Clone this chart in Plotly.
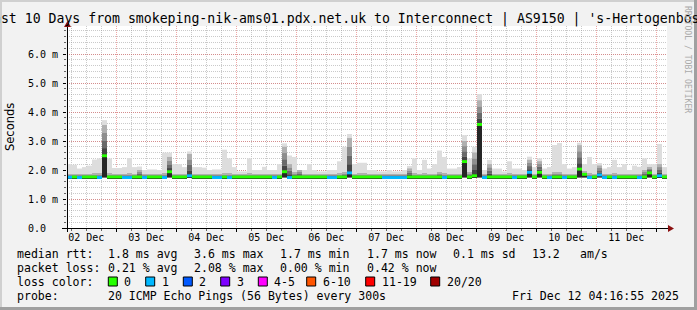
import pandas as pd
import plotly.graph_objects as go

# ---------------- data ----------------
START = pd.Timestamp("2025-12-02 04:16:55")
STEP_HOURS = 2

# median rtt per 2-hour step (milliseconds)
median_ms = [
    1.75, 1.76, 1.74, 1.76, 1.76, 1.76, 1.74, 2.49, 1.76, 1.76,
    1.76, 1.74, 1.74, 1.76, 1.76, 1.74, 1.76, 1.76, 1.76, 1.74,
    1.94, 1.76, 1.76, 1.76, 1.80, 1.76, 1.76, 1.76, 1.76, 1.74,
    1.74, 1.76, 1.74, 1.76, 1.76, 1.76, 1.76, 1.76, 1.76, 1.76,
    1.76, 1.74, 1.76, 1.94, 1.74, 1.76, 1.76, 1.76, 1.76, 1.76,
    1.76, 1.76, 1.74, 1.74, 1.76, 1.76, 1.90, 1.76, 1.76, 1.76,
    1.76, 1.76, 1.76, 1.74, 1.74, 1.74, 1.74, 1.74, 1.76, 1.76,
    1.76, 1.76, 1.76, 1.76, 1.76, 1.74, 1.76, 1.76, 1.76, 2.29,
    1.76, 1.80, 3.57, 1.74, 1.76, 1.76, 1.76, 1.76, 1.76, 1.74,
    1.76, 1.76, 1.92, 1.76, 1.92, 1.76, 1.74, 1.76, 1.76, 1.74,
    1.76, 1.76, 2.03, 1.85, 1.74, 1.76, 1.83, 1.74, 1.76, 1.74,
    1.76, 1.76, 1.76, 1.76, 1.74, 1.76, 1.90, 1.76, 1.80, 1.76,
]
# smoke: lowest ping, top of the dense (dark) part, highest ping (ms)
smoke_min_ms = [
    1.71, 1.72, 1.70, 1.72, 1.72, 1.72, 1.70, 1.74, 1.72, 1.72,
    1.72, 1.70, 1.70, 1.72, 1.72, 1.70, 1.72, 1.72, 1.72, 1.70,
    1.74, 1.72, 1.72, 1.72, 1.74, 1.72, 1.72, 1.72, 1.72, 1.70,
    1.70, 1.72, 1.70, 1.72, 1.72, 1.72, 1.72, 1.72, 1.72, 1.72,
    1.72, 1.70, 1.72, 1.74, 1.70, 1.72, 1.72, 1.72, 1.72, 1.72,
    1.72, 1.72, 1.70, 1.70, 1.72, 1.72, 1.74, 1.72, 1.72, 1.72,
    1.72, 1.72, 1.72, 1.70, 1.70, 1.70, 1.70, 1.70, 1.72, 1.72,
    1.72, 1.72, 1.72, 1.72, 1.72, 1.70, 1.72, 1.72, 1.72, 1.74,
    1.72, 1.74, 1.74, 1.70, 1.72, 1.72, 1.72, 1.72, 1.72, 1.70,
    1.72, 1.72, 1.74, 1.72, 1.74, 1.72, 1.70, 1.72, 1.72, 1.70,
    1.72, 1.72, 1.74, 1.74, 1.70, 1.72, 1.74, 1.70, 1.72, 1.70,
    1.72, 1.72, 1.72, 1.72, 1.70, 1.72, 1.74, 1.72, 1.74, 1.72,
]
smoke_dark_ms = [
    1.86, 1.86, 1.86, 1.86, 1.86, 1.88, 1.88, 3.55, 1.88, 1.86,
    1.86, 1.86, 1.88, 1.86, 2.00, 1.86, 1.86, 1.86, 1.86, 1.88,
    2.45, 1.86, 1.86, 1.86, 2.55, 1.86, 1.86, 1.86, 1.86, 1.86,
    1.86, 1.88, 1.88, 1.86, 1.86, 1.86, 1.88, 1.86, 1.86, 1.86,
    1.86, 1.86, 1.86, 2.80, 2.20, 1.90, 2.00, 1.86, 1.86, 1.86,
    1.86, 1.86, 1.86, 1.86, 1.88, 1.90, 3.10, 1.86, 1.88, 1.88,
    1.86, 1.86, 1.86, 1.86, 1.86, 1.86, 1.86, 1.86, 2.05, 1.88,
    1.86, 1.88, 1.86, 1.86, 1.90, 1.88, 1.86, 1.86, 1.86, 3.00,
    1.90, 2.60, 4.40, 1.86, 2.20, 1.86, 1.86, 1.86, 1.88, 1.86,
    1.86, 1.86, 2.35, 1.86, 2.30, 1.86, 1.86, 1.90, 1.90, 1.86,
    1.86, 1.86, 2.85, 1.95, 1.88, 1.86, 2.15, 1.86, 1.86, 1.88,
    1.86, 1.86, 1.86, 1.86, 1.86, 2.00, 2.10, 1.86, 2.20, 1.86,
]
smoke_max_ms = [
    2.20, 2.18, 2.05, 2.10, 2.15, 2.36, 2.40, 3.72, 2.40, 2.07,
    2.07, 2.10, 2.41, 2.10, 2.12, 2.00, 2.02, 2.02, 2.00, 2.60,
    2.60, 2.20, 2.20, 2.10, 2.64, 2.10, 2.10, 2.08, 2.00, 2.02,
    2.02, 2.70, 2.40, 2.10, 1.95, 1.95, 2.40, 2.00, 2.00, 2.11,
    2.00, 2.00, 2.20, 2.92, 2.50, 2.45, 2.00, 2.00, 2.20, 2.00,
    1.95, 1.95, 2.00, 2.00, 2.30, 2.80, 3.24, 2.20, 2.25, 2.25,
    2.00, 2.00, 1.95, 1.95, 2.00, 1.95, 1.95, 2.00, 2.14, 2.40,
    2.00, 2.35, 2.05, 2.20, 2.67, 2.45, 2.05, 2.05, 2.10, 3.20,
    2.40, 2.80, 4.62, 2.00, 2.35, 2.05, 2.05, 1.95, 2.30, 2.05,
    2.05, 2.00, 2.46, 2.10, 2.40, 2.05, 2.10, 2.86, 2.93, 2.20,
    2.05, 2.10, 2.94, 2.20, 2.45, 2.20, 2.24, 2.05, 2.10, 2.35,
    2.10, 2.20, 2.00, 2.15, 2.11, 2.40, 2.20, 2.20, 2.90, 2.10,
]
# averaged lost pings (out of 20) per step -> loss colour class
loss_class = [
    1, 0, 1, 0, 0, 0, 1, 0, 0, 0,
    0, 1, 1, 0, 0, 1, 0, 0, 0, 1,
    0, 0, 0, 0, 1, 0, 0, 0, 0, 1,
    1, 0, 1, 0, 0, 0, 0, 0, 0, 0,
    0, 1, 0, 0, 1, 0, 0, 0, 0, 0,
    0, 0, 1, 1, 0, 0, 1, 0, 0, 0,
    0, 0, 0, 1, 1, 1, 1, 1, 0, 0,
    0, 0, 0, 0, 0, 1, 0, 0, 0, 0,
    0, 0, 0, 1, 0, 0, 0, 0, 0, 1,
    0, 0, 1, 0, 0, 0, 1, 0, 0, 1,
    0, 0, 0, 0, 1, 0, 1, 1, 0, 1,
    0, 0, 0, 0, 1, 0, 0, 0, 1, 0,
]

day_labels = ["02 Dec", "03 Dec", "04 Dec", "05 Dec", "06 Dec",
              "07 Dec", "08 Dec", "09 Dec", "10 Dec", "11 Dec"]
y_tick_vals = [0, 1, 2, 3, 4, 5, 6]
y_tick_text = ["0.0\u00a0\u00a0", "1.0 m", "2.0 m", "3.0 m", "4.0 m", "5.0 m", "6.0 m"]

title_text = ("Last 10 Days from smokeping-nik-ams01.pdx.net.uk to Interconnect"
              " | AS9150 | 's-Hertogenbosch")
rtt_items = ["median rtt:", "1.8 ms avg", "3.6 ms max", "1.7 ms min",
             "1.7 ms now", "0.1 ms sd", "13.2", "am/s"]
loss_items = ["packet loss:", "0.21 % avg", "2.08 % max", "0.00 % min", "0.42 % now"]
loss_color_labels = ["0", "1", "2", "3", "4-5", "6-10", "11-19", "20/20"]
loss_colors = ["#26ff00", "#00b8ff", "#0059ff", "#7e00ff",
               "#ff00ff", "#ff5500", "#ff0000", "#a00000"]
probe_text = "20 ICMP Echo Pings (56 Bytes) every 300s"
stamp_text = "Fri Dec 12 04:16:55 2025"

# ---------------- layout geometry (pixels) ----------------
W, H = 697, 310
PL, PR, PT, PB = 67, 667, 26, 228
PX_PER_MS = 29.0
Y_TOP = (PB - PT) / PX_PER_MS


def fx(x):
    return (x - PL) / (PR - PL)


def fy(y):
    return (PB - y) / (PB - PT)


MONO = "DejaVu Sans Mono"
n = len(median_ms)
step = pd.Timedelta(hours=STEP_HOURS)
centers = [START + step * (i + 0.5) for i in range(n)]
width_ms = [step.total_seconds() * 1000] * n
END = START + step * n

fig = go.Figure()


def band(lo, hi, color, xaxis="x"):
    fig.add_trace(go.Bar(
        x=centers, base=lo, y=[h - l for l, h in zip(lo, hi)], width=width_ms,
        marker=dict(color=color, line=dict(width=0)), xaxis=xaxis,
        showlegend=False, hoverinfo="skip"))


# light smoke (all pings)
band(smoke_min_ms, smoke_max_ms, "#dddddd")
# denser smoke
band(smoke_min_ms, smoke_dark_ms, "#c6c6c6")
# gradient from median up to top of dense smoke
shades = ["#444444", "#696969", "#8e8e8e", "#b0b0b0"]
for k, c in enumerate(shades):
    lo = [m + (d - m) * k / 4 for m, d in zip(median_ms, smoke_dark_ms)]
    hi = [m + (d - m) * (k + 1) / 4 for m, d in zip(median_ms, smoke_dark_ms)]
    band(lo, hi, c)
# dark part below median
band(smoke_min_ms, median_ms, "#262626")
# median mark coloured by loss
SW = 0.10
band([m - SW / 2 for m in median_ms], [m + SW / 2 for m in median_ms],
     [loss_colors[c] for c in loss_class], xaxis="x2")

grid_minor = "rgba(150,150,150,0.5)"
grid_major = "rgba(222,80,80,0.5)"

midnight = pd.Timestamp("2025-12-02 00:00:00")
noon_vals = [pd.Timestamp("2025-12-02 12:00:00") + pd.Timedelta(days=d) for d in range(len(day_labels))]

fig.update_layout(
    width=W, height=H,
    margin=dict(l=PL, r=W - PR, t=PT, b=H - PB, pad=0),
    paper_bgcolor="#f2f2f2", plot_bgcolor="#ffffff",
    barmode="overlay", showlegend=False,
    xaxis=dict(
        type="date", range=[START, END], showticklabels=False,
        tickmode="linear", tick0=midnight, dtick=86400000,
        showgrid=True, gridcolor=grid_major, griddash="1px,1px", gridwidth=1,
        ticks="outside", ticklen=3, tickcolor="#000000",
        minor=dict(dtick=6 * 3600000, tick0=midnight, showgrid=True,
                   gridcolor=grid_minor, griddash="1px,1px", gridwidth=1,
                   ticks="outside", ticklen=2, tickcolor="#666666"),
        showline=False, zeroline=False, fixedrange=True,
    ),
    xaxis2=dict(
        type="date", range=[START, END], overlaying="x", anchor="y",
        tickmode="array", tickvals=noon_vals, ticktext=day_labels,
        showgrid=False, ticks="", ticklabelstandoff=2,
        tickfont=dict(family=MONO, size=10, color="#000000"),
        showline=False, zeroline=False, side="bottom",
    ),
    yaxis=dict(
        range=[0, Y_TOP], tickmode="array", tickvals=y_tick_vals, ticktext=y_tick_text,
        showgrid=True, gridcolor=grid_major, griddash="1px,1px", gridwidth=1,
        ticks="outside", ticklen=3, tickcolor="#000000", ticklabelstandoff=3,
        minor=dict(dtick=0.2, tick0=0, showgrid=True, gridcolor=grid_minor,
                   griddash="1px,1px", gridwidth=1, ticks="outside", ticklen=2,
                   tickcolor="#666666"),
        tickfont=dict(family=MONO, size=10, color="#000000"),
        showline=False, zeroline=False,
    ),
)

shapes = []
# frame shading
shapes.append(dict(type="rect", xref="paper", yref="paper", x0=fx(0), x1=fx(W), y0=fy(0), y1=fy(2),
                   fillcolor="#d0d0d0", line=dict(width=0), layer="above"))
shapes.append(dict(type="rect", xref="paper", yref="paper", x0=fx(0), x1=fx(2), y0=fy(0), y1=fy(H),
                   fillcolor="#d0d0d0", line=dict(width=0), layer="above"))
shapes.append(dict(type="rect", xref="paper", yref="paper", x0=fx(W - 3), x1=fx(W), y0=fy(0), y1=fy(H),
                   fillcolor="#a0a0a0", line=dict(width=0), layer="above"))
shapes.append(dict(type="rect", xref="paper", yref="paper", x0=fx(0), x1=fx(W), y0=fy(H - 3), y1=fy(H),
                   fillcolor="#a0a0a0", line=dict(width=0), layer="above"))
# axes
shapes.append(dict(type="line", xref="paper", yref="paper", x0=fx(62), x1=fx(669), y0=fy(228.5), y1=fy(228.5),
                   line=dict(color="#000000", width=1), layer="above"))
shapes.append(dict(type="line", xref="paper", yref="paper", x0=fx(67.5), x1=fx(67.5), y0=fy(232), y1=fy(25),
                   line=dict(color="#000000", width=1), layer="above"))
# arrows
shapes.append(dict(type="path", xref="paper", yref="paper",
                   path=f"M {fx(668)} {fy(225)} L {fx(674)} {fy(228.5)} L {fx(668)} {fy(232)} Z",
                   fillcolor="#8b1010", line=dict(width=0), layer="above"))
shapes.append(dict(type="path", xref="paper", yref="paper",
                   path=f"M {fx(64)} {fy(27)} L {fx(67.5)} {fy(21)} L {fx(71)} {fy(27)} Z",
                   fillcolor="#8b1010", line=dict(width=0), layer="above"))

annotations = []
LEG = dict(family=MONO, size=11.56, color="#000000")


def text(x, y, s, font=LEG, xanchor="left", **kw):
    annotations.append(dict(xref="paper", yref="paper", x=fx(x), y=fy(y), text=s, showarrow=False,
                            xanchor=xanchor, yanchor="middle", font=font, borderpad=0, **kw))


# title (as in the reference it is wider than the image and gets clipped at both sides)
text(350, 19, title_text, font=dict(family=MONO, size=13.2, color="#000000"), xanchor="center")
# watermark
text(688, 59, "RRDTOOL / TOBI OETIKER", font=dict(family=MONO, size=8.1, color="#aaaaaa"),
     xanchor="center", textangle=90)
# y axis title
text(10, 127, "Seconds", font=dict(family="DejaVu Sans", size=11.5, color="#000000"),
     xanchor="center", textangle=-90)

rtt_x = [16, 107.3, 193.3, 279.3, 366, 451.7, 530.7, 579.3]
for s, x in zip(rtt_items, rtt_x):
    text(x, 254, s)
for s, x in zip(loss_items, rtt_x):
    text(x, 268, s)
text(16, 282, "loss color:")
box_x = [108.3, 145.7, 183.3, 220.7, 258.3, 306.7, 365.7, 430.7]
for s, c, x in zip(loss_color_labels, loss_colors, box_x):
    shapes.append(dict(type="rect", xref="paper", yref="paper", x0=fx(x), x1=fx(x + 9),
                       y0=fy(277), y1=fy(286), fillcolor=c, line=dict(color="#000000", width=1),
                       layer="above"))
    text(x + 15, 282, s)
text(16, 296, "probe:")
text(107.3, 296, probe_text)
text(680, 296, stamp_text, xanchor="right")

fig.update_layout(shapes=shapes, annotations=annotations)
fig.write_html("out.html")
